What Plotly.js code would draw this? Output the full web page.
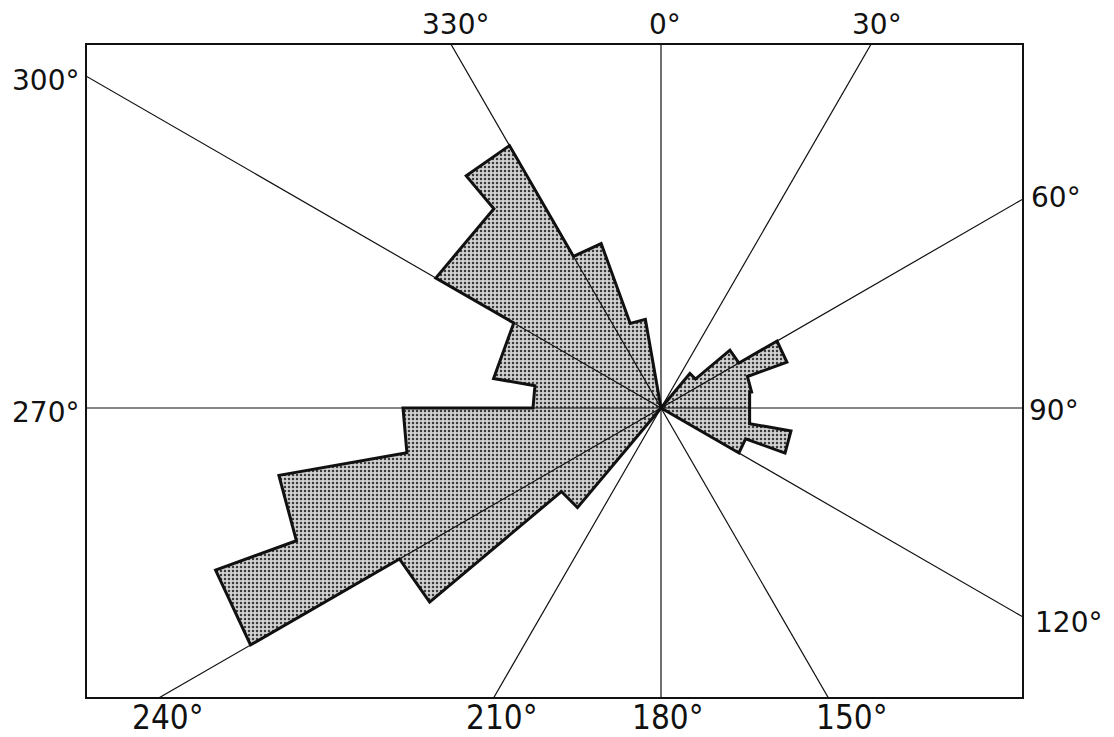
<!DOCTYPE html>
<html>
<head>
<meta charset="utf-8">
<script src="https://cdn.plot.ly/plotly-3.0.1.min.js"></script>
<style>html,body{margin:0;padding:0;background:#fff;}#chart{width:1114px;height:737px;}</style>
</head>
<body>
<div id="chart"></div>
<script>
// Rose diagram: 10-degree direction classes (compass degrees, start of class) and frequencies
const binStart = [0,10,20,30,40,50,60,70,80,90,100,110,120,130,140,150,160,170,
                  180,190,200,210,220,230,240,250,260,270,280,290,300,310,320,330,340,350];
const frequency = [0,0,0,0,4.5,9.0,13.4,9.2,9.0,9.0,13.2,9.0,0,0,0,0,0,0,
                   0,0,0,0,13.0,30.2,47.4,38.8,25.8,12.8,17.0,17.0,26.0,26.0,30.3,17.5,9.0,0];
const binWidth = 10;
// Reference directions (grid lines) and their labels
const gridAngles = [0,30,60,90,120,150];
const labelTexts = ['330°','0°','30°','300°','60°','270°','90°','120°','240°','210°','180°','150°'];

const rad = d => d*Math.PI/180;
// petal outline in x/y (x = east, y = north); equal neighbouring classes share one chord
const ox = [0], oy = [0];
let i = 0;
while (i < binStart.length) {
  let j = i;
  while (j + 1 < binStart.length && frequency[j+1] === frequency[i]) j++;
  const r = frequency[i];
  const a0 = binStart[i], a1 = binStart[j] + binWidth;
  ox.push(r*Math.sin(rad(a0)), r*Math.sin(rad(a1)));
  oy.push(r*Math.cos(rad(a0)), r*Math.cos(rad(a1)));
  i = j + 1;
}
ox.push(0); oy.push(0);

const L = 200;
const gx = [], gy = [];
gridAngles.forEach(a => {
  gx.push(-L*Math.sin(rad(a)), L*Math.sin(rad(a)), null);
  gy.push(-L*Math.cos(rad(a)), L*Math.cos(rad(a)), null);
});

const traces = [
  {x: ox, y: oy, type: 'scatter', mode: 'lines', fill: 'toself',
   fillcolor: '#cdcdcd',
   fillpattern: {shape: '.', bgcolor: '#d2d2d2', fgcolor: '#3a3a3a', size: 4, solidity: 0.3},
   line: {color: '#111', width: 3}, hoverinfo: 'skip'},
  {x: gx, y: gy, type: 'scatter', mode: 'lines',
   line: {color: '#111', width: 1.2}, hoverinfo: 'skip'}
];

// plot-area pixel box
const W = 1114, H = 737, ml = 87, mr = 92, mt = 45, mb = 40;
const pw = W - ml - mr, ph = H - mt - mb;
const px2x = p => (p - ml)/pw;
const py2y = p => (H - mb - p)/ph;
const labelPos = [[455,25],[665,25],[877,25],[45,80],[1056,197],[45,412],[1054,410],[1068,622],
                  [168,717],[502,717],[668,717],[852,717]];
const annotations = labelTexts.map((t, k) => ({
  text: t, xref: 'paper', yref: 'paper',
  x: px2x(labelPos[k][0]), y: py2y(labelPos[k][1]),
  xanchor: 'center', yanchor: 'middle', showarrow: false,
  font: k >= 8 ? {family: 'Liberation Sans Narrow, DejaVu Sans Condensed, sans-serif', size: 33, color: '#111'}
               : {family: 'DejaVu Sans, sans-serif', size: 28, color: '#111'}
}));

const axisCommon = {showgrid: false, zeroline: false, showticklabels: false, ticks: '',
  showline: true, mirror: true, linecolor: '#111', linewidth: 2.2, fixedrange: true};
const layout = {
  width: W, height: H,
  margin: {l: ml, r: mr, t: mt, b: mb, pad: 0},
  paper_bgcolor: '#fff', plot_bgcolor: '#fff',
  showlegend: false,
  xaxis: Object.assign({range: [-(661-ml)/10, (W-mr-661)/10]}, axisCommon),
  yaxis: Object.assign({range: [-(H-mb-408)/10, (408-mt)/10]}, axisCommon),
  annotations: annotations
};
Plotly.newPlot('chart', traces, layout, {displayModeBar: false, staticPlot: true});
</script>
</body>
</html>
